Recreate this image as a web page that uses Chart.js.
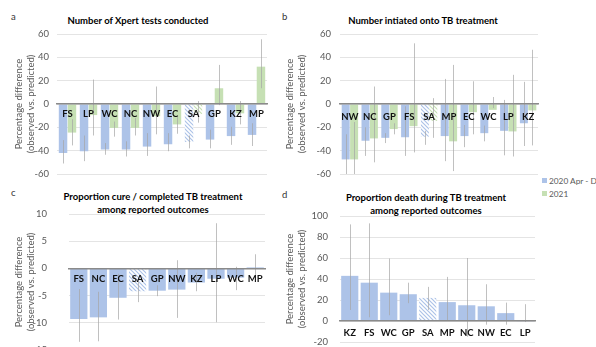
<!DOCTYPE html>
<html>
<head>
<meta charset="utf-8">
<script src="https://cdn.jsdelivr.net/npm/chart.js@4.4.1/dist/chart.umd.min.js"></script>
<style>
  html, body { margin: 0; padding: 0; background: #fff; overflow: hidden; width: 596px; height: 347px; position: relative; font-family: Lato, sans-serif; }
  canvas { position: absolute; }
  .title { position: absolute; width: 240px; font-weight: bold; font-size: 9.5px; line-height: 12.5px; color: #000; text-align: center; white-space: nowrap; }
  .letter { position: absolute; font-size: 9.5px; color: #333; line-height: 12px; }
  .leg { position: absolute; left: 0; font-size: 8.3px; color: #595959; white-space: nowrap; line-height: 12px; }
  .leg i { display: inline-block; width: 5px; height: 5px; margin-right: 2px; vertical-align: 1px; }
</style>
</head>
<body>
<div class="letter" style="left:11px;top:11px">a</div>
<div class="letter" style="left:282px;top:11px">b</div>
<div class="letter" style="left:11px;top:187px">c</div>
<div class="letter" style="left:282px;top:189px">d</div>

<div class="title" style="left:18px;top:15px">Number of Xpert tests conducted</div>
<div class="title" style="left:303px;top:15px">Number intiated onto TB treatment</div>
<div class="title" style="left:33px;top:191px">Proportion cure / completed TB treatment<br>among reported outcomes</div>
<div class="title" style="left:306px;top:192px">Proportion death during TB treatment<br>among reported outcomes</div>

<div id="legend" style="position:absolute;left:542px;top:175px"></div>

<canvas id="chartA" width="296" height="190" style="left:0;top:0"></canvas>
<canvas id="chartB" width="316" height="190" style="left:280px;top:0"></canvas>
<canvas id="chartC" width="296" height="204" style="left:0;top:175px"></canvas>
<canvas id="chartD" width="316" height="185" style="left:280px;top:175px"></canvas>

<script>
var seriesNames = ['2020 Apr - Dec', '2021'];
var blue = '#adc3e8';
var green = '#c6e0b4';

// a: Xpert tests
var catsA = ['FS', 'LP', 'WC', 'NC', 'NW', 'EC', 'SA', 'GP', 'KZ', 'MP'];
var xpert2020 = [-42, -40.5, -39, -39, -36.5, -34.5, -32.5, -30.5, -27.5, -26.5];
var xpert2020Lo = [-51, -49, -43.5, -45, -44.5, -40.5, -38, -38, -35, -36];
var xpert2020Hi = [-31, -27, -33.5, -32, -25, -25, -27, -22, -19.5, -16.5];
var xpert2021 = [-24.5, -9.5, -20.5, -20.5, -10.5, -17.5, -8.5, 13.5, -8, 32];
var xpert2021Lo = [-35.5, -27, -28, -27, -26, -25.5, -16, -1, -17.5, 13.5];
var xpert2021Hi = [-13, 21, -15, -12, 15, -11, 2.5, 33.5, 2.5, 55.5];
var ticksA = [-60, 60, 20];

// b: initiated onto treatment
var catsB = ['NW', 'NC', 'GP', 'FS', 'SA', 'MP', 'EC', 'WC', 'LP', 'KZ'];
var init2020 = [-47.5, -31.5, -29, -28.5, -28, -27.5, -27.5, -25, -23, -16.5];
var init2020Lo = [-60, -44.5, -33.5, -44.5, -35, -49, -37, -32, -44, -36];
var init2020Hi = [-26, -20, -25, -2, -23, 21.5, -18, -18.5, 3.5, 19];
var init2021 = [-47.5, -29.5, -21.5, -19, -14.5, -32, -7, -5, -23.5, -5.5];
var init2021Lo = [-60, -50, -26, -41.5, -29, -57.5, -26, -3.5, -45, -35.5];
var init2021Hi = [-15.5, 15, -16.5, 52, 5, 33.5, 19.5, 6, 25, 46.5];
var ticksB = [-60, 60, 20];

// c: cure / completed
var catsC = ['FS', 'NC', 'EC', 'SA', 'GP', 'NW', 'KZ', 'LP', 'WC', 'MP'];
var cure2020 = [-9.3, -9, -5.4, -4.2, -4.1, -3.9, -2.6, -1.9, -1.7, 0.2];
var cure2020Lo = [-13.5, -13.4, -9.4, -6.2, -5.1, -9.1, -4.2, -9.9, -4, -1.5];
var cure2020Hi = [-3.8, -4.3, -1, -2.2, -3.1, 1.5, -0.8, 8.3, 0.3, 2.6];
var ticksC = [-15, 10, 5];

// d: death during treatment
var catsD = ['KZ', 'FS', 'WC', 'GP', 'SA', 'MP', 'NC', 'NW', 'EC', 'LP'];
var death2020 = [43, 36.5, 27, 25.5, 22, 18, 15, 14, 7.5, -0.6];
var death2020Lo = [10.5, 3.5, 5.5, 17, 10.5, 0, -15, -3.5, -3.5, -1];
var death2020Hi = [92, 93, 59.5, 36.5, 32.5, 42, 60, 35, 17.5, 16];
var ticksD = [-20, 100, 20];

// legend
var colors = [blue, green];
document.getElementById('legend').innerHTML = seriesNames.map(function (n, i) {
  return '<div class="leg" style="top:' + (i * 13) + 'px"><i style="background:' + colors[i] + '"></i>' + n + '</div>';
}).join('');

function hatch(color) {
  var c = document.createElement('canvas');
  c.width = 4; c.height = 4;
  var x = c.getContext('2d');
  x.fillStyle = '#fff';
  x.fillRect(0, 0, 4, 4);
  x.strokeStyle = color;
  x.lineWidth = 1.2;
  x.beginPath();
  x.moveTo(-1, -1); x.lineTo(5, 5);
  x.moveTo(3, -1); x.lineTo(5, 1);
  x.moveTo(-1, 3); x.lineTo(1, 5);
  x.stroke();
  return x.createPattern(c, 'repeat');
}

var errorBars = {
  id: 'errorBars',
  afterDatasetsDraw: function (chart) {
    var ctx = chart.ctx, y = chart.scales.y;
    ctx.save();
    ctx.strokeStyle = 'rgba(165,165,165,0.7)';
    ctx.lineWidth = 1;
    chart.data.datasets.forEach(function (ds, i) {
      chart.getDatasetMeta(i).data.forEach(function (bar, j) {
        var x = Math.round(bar.x) + 0.5;
        ctx.beginPath();
        ctx.moveTo(x, y.getPixelForValue(ds.hi[j]));
        ctx.lineTo(x, y.getPixelForValue(ds.lo[j]));
        ctx.stroke();
      });
    });
    ctx.restore();
  }
};

function panel(id, cats, sets, range, box) {
  var pair = sets.length > 1;
  new Chart(document.getElementById(id), {
    type: 'bar',
    data: {
      labels: cats,
      datasets: sets.map(function (s) {
        return {
          label: s.name,
          data: s.v,
          lo: s.lo,
          hi: s.hi,
          backgroundColor: cats.map(function (c) { return c === 'SA' ? hatch(s.color) : s.color; }),
          borderWidth: 0,
          categoryPercentage: pair ? 0.85 : 0.88,
          barPercentage: pair ? 0.95 : 1
        };
      })
    },
    options: {
      responsive: false,
      animation: false,
      events: [],
      layout: { padding: { left: 0, top: box.top, right: box.right, bottom: box.bottom } },
      plugins: { legend: { display: false }, tooltip: { enabled: false } },
      scales: {
        x: {
          position: { y: 0 },
          grid: { display: false, drawTicks: false },
          border: { color: '#8a8a8a', width: 1.5, z: 1 },
          ticks: { z: 2, autoSkip: false, maxRotation: 0, padding: box.labelPad, color: '#111',
                   font: { family: 'Lato', size: 9.5, weight: 'bold' } },
          afterFit: function (s) { s.height = 0; }
        },
        y: {
          min: range[0],
          max: range[1],
          ticks: { stepSize: range[2], padding: box.tickPad, color: '#595959',
                   font: { family: 'Lato', size: 9.5 } },
          grid: { color: '#e4e4e4', drawTicks: false },
          border: { display: false },
          title: {
            display: true,
            text: ['Percentage difference', '(observed vs. predicted)'],
            color: '#595959',
            font: { family: 'Lato', size: 9.5, lineHeight: 1.3 },
            padding: { top: box.titlePad, bottom: 0 }
          },
          afterFit: function (s) { s.width = box.axisW; }
        }
      }
    },
    plugins: [errorBars]
  });
}

panel('chartA', catsA, [
  { name: seriesNames[0], v: xpert2020, lo: xpert2020Lo, hi: xpert2020Hi, color: blue },
  { name: seriesNames[1], v: xpert2021, lo: xpert2021Lo, hi: xpert2021Hi, color: green }
], ticksA, { axisW: 57, top: 34, right: 29, bottom: 16, tickPad: 8, titlePad: 12.8, labelPad: 4 });

panel('chartB', catsB, [
  { name: seriesNames[0], v: init2020, lo: init2020Lo, hi: init2020Hi, color: blue },
  { name: seriesNames[1], v: init2021, lo: init2021Lo, hi: init2021Hi, color: green }
], ticksB, { axisW: 60, top: 34, right: 58, bottom: 16, tickPad: 9, titlePad: 3.8, labelPad: 7 });

panel('chartC', catsC, [
  { name: seriesNames[0], v: cure2020, lo: cure2020Lo, hi: cure2020Hi, color: blue }
], ticksC, { axisW: 69, top: 39, right: 31, bottom: 29, tickPad: 22, titlePad: 12.8, labelPad: 5 });

panel('chartD', catsD, [
  { name: seriesNames[0], v: death2020, lo: death2020Lo, hi: death2020Hi, color: blue }
], ticksD, { axisW: 60, top: 41, right: 61, bottom: 18, tickPad: 12, titlePad: 3.8, labelPad: 6 });
</script>
</body>
</html>
